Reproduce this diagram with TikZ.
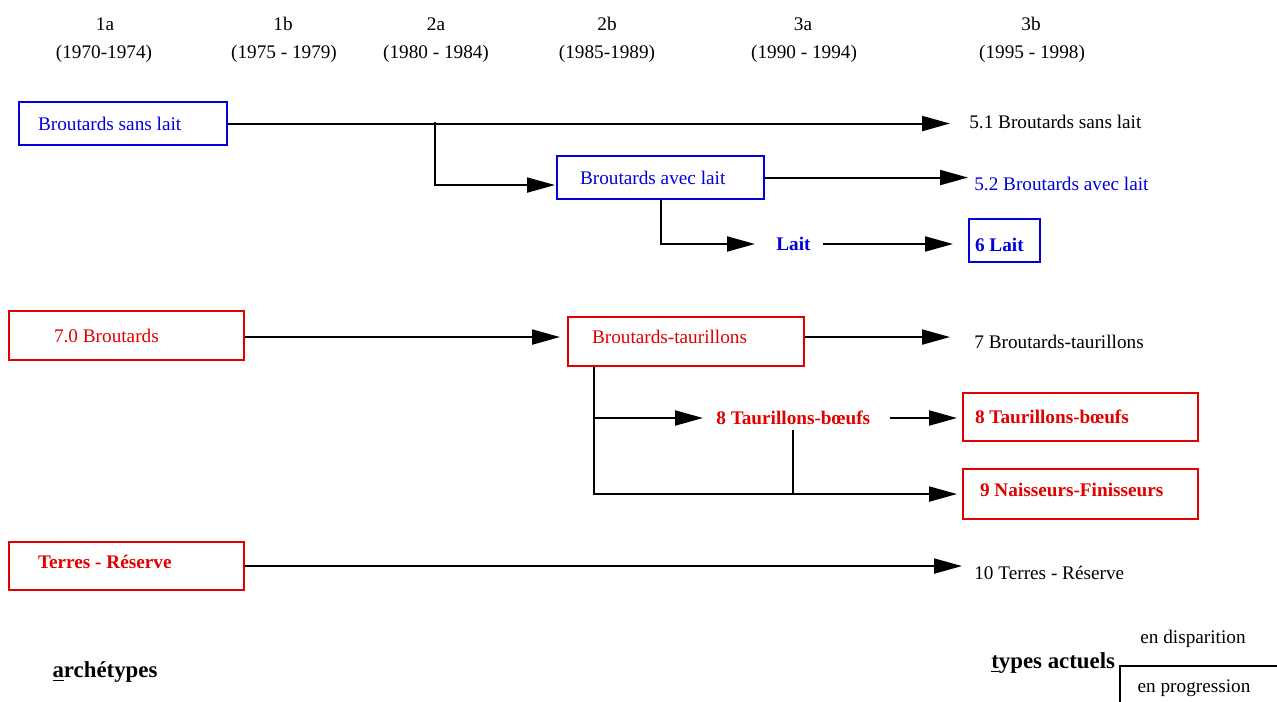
\documentclass[11pt,tikz,border=0pt]{standalone}
\usepackage{fontspec}
\setmainfont{Liberation Serif}
\usetikzlibrary{arrows.meta,positioning,calc}
\definecolor{bleu}{RGB}{0,0,220}
\definecolor{rouge}{RGB}{224,0,0}
\tikzset{
    boxb/.style={draw=bleu,line width=1.2pt,text=bleu,align=flush left,inner ysep=0pt,minimum height=0.86cm,anchor=north west},
    boxr/.style={draw=rouge,line width=1.2pt,text=rouge,align=flush left,inner ysep=0pt,anchor=north west},
    lbl/.style={inner sep=0pt,anchor=west},
    arrow/.style={-{Triangle[length=0.56cm,width=0.3cm]},line width=1.1pt},
    link/.style={line width=1.1pt}
}
\begin{document}
\begin{tikzpicture}[x=0.02cm,y=-0.02cm]
    \useasboundingbox (0,0) rectangle (1277,702);
    % periodes
    \node (h1a) at (105,24) {1a};
    \node (p1a) at (104,54) {(1970-1974)};
    \node (h1b) at (283,24) {1b};
    \node (p1b) at (284,54) {(1975 - 1979)};
    \node (h2a) at (436,24) {2a};
    \node (p2a) at (436,54) {(1980 - 1984)};
    \node (h2b) at (607,24) {2b};
    \node (p2b) at (607,54) {(1985-1989)};
    \node (h3a) at (803,24) {3a};
    \node (p3a) at (804,54) {(1990 - 1994)};
    \node (h3b) at (1031,24) {3b};
    \node (p3b) at (1032,54) {(1995 - 1998)};

    % types bleus
    \node[boxb,inner xsep=0.38cm,text width=3.4cm] (bsl) at (18,101) {Broutards sans lait};
    \node[boxb,inner xsep=0.46cm,text width=3.22cm] (bal) at (556,155) {Broutards avec lait};
    \node[boxb,inner xsep=0.12cm,text width=1.18cm,text height=0.44cm,font=\bfseries] (lait6) at (968,218) {6 Lait};
    \node[lbl] (t51) at (969,122) {5.1 Broutards sans lait};
    \node[lbl,text=bleu] (t52) at (974,184) {5.2 Broutards avec lait};
    \node[lbl,text=bleu,font=\bfseries] (lait) at (776,244) {Lait};

    % types rouges
    \node[boxr,minimum height=0.98cm,inner xsep=0.9cm,text width=2.9cm] (b70) at (8,310) {7.0 Broutards};
    \node[boxr,minimum height=0.98cm,inner xsep=0.48cm,text width=3.76cm,text depth=0.18cm] (bt) at (567,316) {Broutards-taurillons};
    \node[boxr,minimum height=0.96cm,inner xsep=0.24cm,text width=4.22cm,font=\bfseries] (tb8) at (962,392) {8 Taurillons-bœufs};
    \node[boxr,minimum height=1.0cm,inner xsep=0.34cm,text width=4.02cm,text depth=0.18cm,font=\bfseries] (tb9) at (962,468) {9 Naisseurs-Finisseurs};
    \node[boxr,minimum height=0.96cm,inner xsep=0.58cm,text width=3.54cm,text depth=0.18cm,font=\bfseries] (terres) at (8,541) {Terres - Réserve};
    \node[lbl] (t7) at (974,342) {7 Broutards-taurillons};
    \node[lbl,text=rouge,font=\bfseries] (tb) at (716,418) {8 Taurillons-bœufs};
    \node[lbl] (t10) at (974,573) {10 Terres - Réserve};

    % filiations
    \coordinate (br1) at (435,122);
    \draw[arrow,shorten >=0.38cm] (bsl.east) -- (bsl.east -| t51.west);
    \draw[arrow,shorten >=0.02cm] (br1) |- ([yshift=-0.15cm]bal.west);
    \draw[arrow,shorten >=0.12cm] (bal.east) -- (bal.east -| t52.west);
    \draw[arrow,shorten >=0.42cm] (bal.south) |- (lait.west);
    \draw[arrow,shorten <=0.24cm,shorten >=0.3cm] (lait.east) -- (lait.east -| lait6.west);
    \draw[arrow,shorten >=0.14cm] ([yshift=-0.03cm]b70.east) -- ([yshift=-0.03cm]b70.east -| bt.west);
    \draw[arrow,shorten >=0.48cm] ([yshift=0.09cm]bt.east) -- ([yshift=0.09cm]bt.east -| t7.west);
    \coordinate (v1) at ([xshift=0.54cm]bt.south west);
    \draw[arrow,shorten >=0.26cm] (v1) |- (tb.west);
    \draw[arrow,shorten >=0.1cm] (v1) |- (tb9.west);
    \draw[arrow,shorten <=0.38cm,shorten >=0.1cm] (tb.east) -- (tb.east -| tb8.west);
    \draw[link,shorten <=0.1cm] (tb.south) -- (tb.south |- tb9.west);
    \draw[arrow,shorten >=0.24cm] (terres.east) -- (terres.east -| t10.west);

    % legende
    \node[font=\fontsize{13}{15}\selectfont\bfseries] (arch) at (105,672) {\underline{a}rchétypes};
    \node[lbl,font=\fontsize{13}{15}\selectfont\bfseries] (types) at (991,663) {\underline{t}ypes actuels};
    \coordinate (leg) at (1120,666);
    \draw[link] (1277,666) -- (leg) -- (1120,702);
    \node (disp) at (1193,639) {en disparition};
    \node (prog) at (1194,688) {en progression};
\end{tikzpicture}
\end{document}
